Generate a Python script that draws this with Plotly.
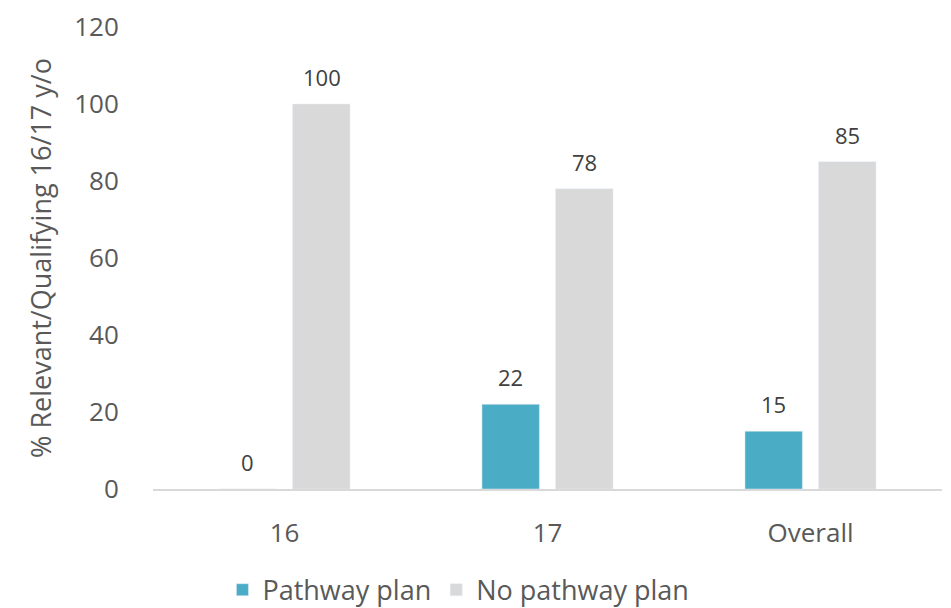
import plotly.graph_objects as go

categories = ["16", "17", "Overall"]
pathway = [0, 22, 15]
no_pathway = [100, 78, 85]
yticks = [0, 20, 40, 60, 80, 100, 120]

font = "Open Sans"
txt = "#595959"
lbl = "#404040"

fig = go.Figure()
fig.add_trace(go.Bar(x=categories, y=pathway, name="Pathway plan",
                     marker=dict(color="#4BACC6")))
fig.add_trace(go.Bar(x=categories, y=no_pathway, name="No pathway plan",
                     marker=dict(color="#D9D9D9")))

# data labels above bars (category index position, offset to each bar of the group)
for series, shift in ((pathway, -37), (no_pathway, 37)):
    for i, v in enumerate(series):
        fig.add_annotation(x=i, y=v, text=str(v), showarrow=False,
                           xshift=shift, yshift=27, yanchor="middle",
                           font=dict(size=22, color=lbl, family=font))

# page body has an 8px default margin, so the figure is 8px smaller
fig.update_layout(
    width=943, height=600,
    margin=dict(l=145, r=9, t=19, b=119, autoexpand=False),
    paper_bgcolor="white", plot_bgcolor="white",
    barmode="group", bargap=0.44, bargroupgap=0.22,
    font=dict(family=font, color=txt, size=26),
    showlegend=True,
    legend=dict(orientation="h", x=0.088, xanchor="left", y=-0.219, yanchor="middle",
                font=dict(size=27, color=txt), traceorder="normal"),
    xaxis=dict(type="category", categoryorder="array", categoryarray=categories,
               range=[-0.5, len(categories) - 0.5],
               showline=True, linecolor="#D9D9D9", linewidth=1.5,
               ticks="outside", ticklen=20, tickcolor="rgba(0,0,0,0)",
               tickfont=dict(size=26, color=txt), showgrid=False, tickangle=0),
    yaxis=dict(range=[0, 120], tickvals=yticks, showgrid=False, zeroline=False,
               showline=False, ticks="outside", ticklen=28, tickcolor="rgba(0,0,0,0)",
               tickfont=dict(size=26, color=txt),
               title=dict(text="% Relevant/Qualifying 16/17 y/o",
                          font=dict(size=27, color=txt), standoff=14)),
)
fig.write_html("out.html")
